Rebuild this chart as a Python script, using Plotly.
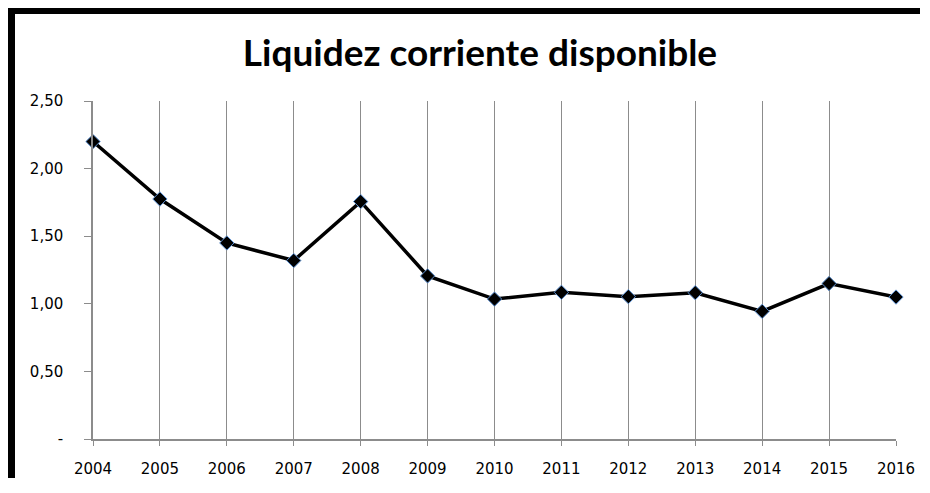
import plotly.graph_objects as go

years = [2004, 2005, 2006, 2007, 2008, 2009, 2010, 2011, 2012, 2013, 2014, 2015, 2016]
liquidez = [2.20, 1.775, 1.45, 1.32, 1.756, 1.206, 1.035, 1.085, 1.053, 1.082, 0.944, 1.15, 1.05]
y_tickvals = [0, 0.5, 1.0, 1.5, 2.0, 2.5]
y_ticktext = ["-", "0,50", "1,00", "1,50", "2,00", "2,50"]
title_text = "Liquidez corriente disponible"

fig = go.Figure()
fig.add_trace(go.Scatter(
    x=years, y=liquidez, mode="lines+markers",
    line=dict(color="black", width=3.5),
    marker=dict(symbol="diamond", size=11, color="black",
                line=dict(color="#5b8fd0", width=1)),
    cliponaxis=False,
    showlegend=False, hoverinfo="x+y",
))

# page has an 8px body margin, so coordinates are shifted by 8px
W, H = 912, 470
L, R, T, B = 85, 24, 93, 39
pw, ph = W - L - R, H - T - B

def px_x(x):
    return (x - L) / pw

def px_y(y):
    return (H - B - y) / ph

fig.update_layout(
    width=W, height=H,
    margin=dict(l=L, r=R, t=T, b=B, autoexpand=False),
    paper_bgcolor="white", plot_bgcolor="white",
    title=dict(text="<b>" + title_text + "</b>", x=472 / W, xanchor="center",
               y=1 - 45 / H, yanchor="middle", automargin=False,
               font=dict(family="Lato", size=37, color="black")),
    xaxis=dict(range=[2004, 2016], tickvals=years, ticktext=[str(y) for y in years],
               automargin=False,
               showgrid=True, gridcolor="#8c8c8c", gridwidth=1,
               showline=True, linecolor="#8c8c8c", linewidth=2,
               ticks="outside", ticklen=5, tickcolor="#8c8c8c",
               ticklabelstandoff=10,
               tickfont=dict(family="DejaVu Sans", size=15, color="black"),
               zeroline=False),
    yaxis=dict(range=[0, 2.5], tickvals=y_tickvals, ticktext=y_ticktext,
               automargin=False,
               showgrid=False, showline=True, linecolor="#8c8c8c", linewidth=1.5,
               zeroline=False,
               ticks="outside", ticklen=7, tickcolor="#8c8c8c",
               ticklabelstandoff=18,
               tickfont=dict(family="DejaVu Sans", size=15, color="black")),
    shapes=[
        dict(type="line", xref="paper", yref="paper",
             x0=px_x(0), x1=px_x(W), y0=px_y(2.5), y1=px_y(2.5),
             line=dict(color="black", width=7)),
        dict(type="line", xref="paper", yref="paper",
             x0=px_x(3.5), x1=px_x(3.5), y0=px_y(-1), y1=px_y(H),
             line=dict(color="black", width=7)),
    ],
)

fig.write_html("out.html")
